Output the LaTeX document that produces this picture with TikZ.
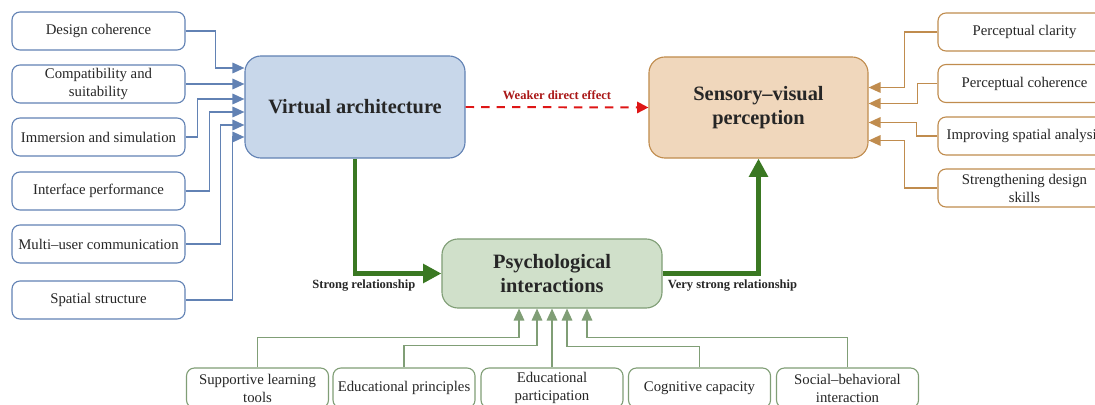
\documentclass[tikz,border=0pt]{standalone}
\usepackage{fontspec}
\setmainfont{Liberation Serif}
\usepackage{tikz}
\usetikzlibrary{shapes,arrows.meta,positioning,calc}

\definecolor{VaLine}{RGB}{98,130,180}
\definecolor{VaFill}{RGB}{200,215,234}
\definecolor{SvLine}{RGB}{192,140,78}
\definecolor{SvFill}{RGB}{240,215,188}
\definecolor{PiLine}{RGB}{128,158,118}
\definecolor{PiFill}{RGB}{208,224,202}
\definecolor{StrongGreen}{RGB}{58,120,34}
\definecolor{WeakRed}{RGB}{222,22,22}
\definecolor{WeakText}{RGB}{170,24,24}

\tikzset{
  every node/.style={
    font=\fontsize{10.5}{12.8}\selectfont,
    text=black!85
  },
  factorbox/.style={
    shape=rectangle,
    rounded corners=0.2cm,
    draw=#1,
    line width=0.8pt,
    fill=white,
    minimum width=4.325cm,
    minimum height=0.95cm,
    align=center,
    inner sep=1pt
  },
  construct/.style n args={2}{
    shape=rectangle,
    rounded corners=0.4cm,
    draw=#1,
    fill=#2,
    line width=0.8pt,
    minimum width=5.5cm,
    align=center,
    font=\fontsize{14.5}{16.5}\selectfont\bfseries
  },
  feed/.style={
    draw=#1,
    line width=1.1pt,
    -{Triangle[length=8.5pt,width=7.5pt]}
  },
  strongarrow/.style={
    draw=StrongGreen,
    line width=3.5pt,
    -{Triangle[length=13pt,width=13pt]}
  },
  weakarrow/.style={
    draw=WeakRed,
    line width=1.4pt,
    dash pattern=on 6pt off 5pt,
    -{Triangle[length=8pt,width=8pt]}
  },
  rellabel/.style={
    font=\fontsize{8.9}{10}\selectfont\bfseries,
    inner sep=1pt
  }
}

\begin{document}
\begin{tikzpicture}[x=0.025cm,y=-0.025cm]
\useasboundingbox (0,0) rectangle (1095,405);

% main constructs
\node [construct={VaLine}{VaFill}, minimum height=2.55cm] (va) at (355,107)
  {Virtual architecture};
\node [construct={SvLine}{SvFill}, minimum width=5.475cm, minimum height=2.525cm] (svp) at (758.5,107.5)
  {Sensory--visual\\perception};
\node [construct={PiLine}{PiFill}, minimum height=1.725cm] (pi) at (552,273.5)
  {Psychological\\interactions};

% virtual architecture factors
\node [factorbox=VaLine] (dc) at (98.5,31) {Design coherence};
\node [factorbox=VaLine] (cs) at (98.5,84) {Compatibility and\\suitability};
\node [factorbox=VaLine] (is) at (98.5,137) {Immersion and simulation};
\node [factorbox=VaLine] (ip) at (98.5,191) {Interface performance};
\node [factorbox=VaLine] (mc) at (98.5,244) {Multi--user communication};
\node [factorbox=VaLine] (ss) at (98.5,300) {Spatial structure};

% perception factors
\node [factorbox=SvLine] (pc) at (1024.5,32) {Perceptual clarity};
\node [factorbox=SvLine] (pco) at (1024.5,83.5) {Perceptual coherence};
\node [factorbox=SvLine] (isa) at (1024.5,136) {Improving spatial analysis};
\node [factorbox=SvLine] (sds) at (1024.5,188) {Strengthening design\\skills};

% psychological factors
\node [factorbox=PiLine, minimum width=3.55cm, minimum height=1cm] (slt) at (257.5,388) {Supportive learning\\tools};
\node [factorbox=PiLine, minimum width=3.55cm, minimum height=1cm] (epr) at (404,388) {Educational principles};
\node [factorbox=PiLine, minimum width=3.55cm, minimum height=1cm] (epa) at (552,388) {Educational\\participation};
\node [factorbox=PiLine, minimum width=3.55cm, minimum height=1cm] (cc) at (699.5,388) {Cognitive capacity};
\node [factorbox=PiLine, minimum width=3.55cm, minimum height=1cm] (sbi) at (847.5,388) {Social--behavioral\\interaction};

% feeds into virtual architecture
\draw [feed=VaLine] (dc.east) -- ++(30,0) |- ($(va.west)+(0,-39)$);
\draw [feed=VaLine] (cs.east) -- ($(va.west)+(0,-23)$);
\draw [feed=VaLine] (is.east) -- ++(12,0) |- ($(va.west)+(0,-8)$);
\draw [feed=VaLine] (ip.east) -- ++(24,0) |- ($(va.west)+(0,5)$);
\draw [feed=VaLine] (mc.east) -- ++(35,0) |- ($(va.west)+(0,18)$);
\draw [feed=VaLine] (ss.east) -- ++(47,0) |- ($(va.west)+(0,30)$);

% feeds into perception
\draw [feed=SvLine] (pc.west) -- ++(-33,0) |- ($(svp.east)+(0,-20)$);
\draw [feed=SvLine] (pco.west) -- ++(-20,0) |- ($(svp.east)+(0,-4)$);
\draw [feed=SvLine] (isa.west) -- ++(-21,0) |- ($(svp.east)+(0,15)$);
\draw [feed=SvLine] (sds.west) -- ++(-33,0) |- ($(svp.east)+(0,33)$);

% feeds into psychological interactions
\draw [feed=PiLine] (slt.north) -- ++(0,-30) -| ($(pi.south)+(-33,0)$);
\draw [feed=PiLine] (epr.north) -- ++(0,-22) -| ($(pi.south)+(-15,0)$);
\draw [feed=PiLine] (epa.north) -- (pi.south);
\draw [feed=PiLine] (cc.north) -- ++(0,-21) -| ($(pi.south)+(15,0)$);
\draw [feed=PiLine] (sbi.north) -- ++(0,-30) -| ($(pi.south)+(35,0)$);

% relationships
\draw [weakarrow] (va.east) -- node [rellabel, above=4pt, text=WeakText] {Weaker direct effect} (svp.west);
\draw [strongarrow] (va.south) |- node [rellabel, below=1.5pt, xshift=0.22cm] {Strong relationship} (pi.west);
\draw [strongarrow] (pi.east) -| node [rellabel, below=1.5pt, xshift=-0.65cm] {Very strong relationship} (svp.south);

\end{tikzpicture}
\end{document}
